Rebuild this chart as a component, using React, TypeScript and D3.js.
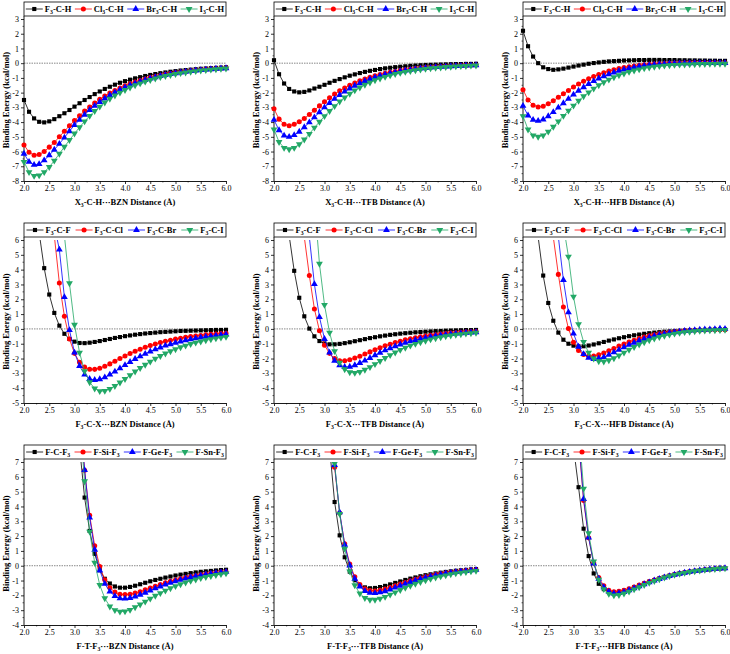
import React, { useEffect, useRef } from "react";
import * as d3 from "d3";

// x grid (Å)
const distance = [
  2.0, 2.1, 2.2, 2.3, 2.4, 2.5, 2.6, 2.7, 2.8, 2.9,
  3.0, 3.1, 3.2, 3.3, 3.4, 3.5, 3.6, 3.7, 3.8, 3.9,
  4.0, 4.1, 4.2, 4.3, 4.4, 4.5, 4.6, 4.7, 4.8, 4.9,
  5.0, 5.1, 5.2, 5.3, 5.4, 5.5, 5.6, 5.7, 5.8, 5.9,
  6.0,
];

// top row: X3-C-H ... BZN / TFB / HFB
const hBznF = [
  -2.5, -3.3, -3.75, -3.98, -4.02, -3.95, -3.8, -3.6, -3.4, -3.18,
  -2.95, -2.72, -2.5, -2.3, -2.1, -1.92, -1.75, -1.6, -1.46, -1.33,
  -1.22, -1.12, -1.03, -0.95, -0.87, -0.8, -0.74, -0.68, -0.63, -0.58,
  -0.54, -0.5, -0.47, -0.44, -0.41, -0.38, -0.36, -0.34, -0.32, -0.3,
  -0.28,
];
const hBznCl = [
  -5.55, -6.05, -6.25, -6.2, -6.0, -5.7, -5.38, -5.0, -4.62, -4.25,
  -3.9, -3.57, -3.25, -2.97, -2.7, -2.45, -2.23, -2.03, -1.85, -1.68,
  -1.53, -1.4, -1.28, -1.17, -1.07, -0.98, -0.9, -0.83, -0.76, -0.7,
  -0.65, -0.6, -0.56, -0.52, -0.48, -0.45, -0.42, -0.39, -0.37, -0.34,
  -0.32,
];
const hBznBr = [
  -6.15, -6.7, -6.9, -6.85, -6.6, -6.25, -5.88, -5.48, -5.05, -4.62,
  -4.2, -3.85, -3.5, -3.18, -2.9, -2.63, -2.4, -2.18, -1.98, -1.8,
  -1.64, -1.5, -1.37, -1.25, -1.14, -1.04, -0.95, -0.87, -0.8, -0.74,
  -0.68, -0.63, -0.58, -0.54, -0.5, -0.47, -0.44, -0.41, -0.38, -0.36,
  -0.34,
];
const hBznI = [
  -6.7, -7.4, -7.65, -7.62, -7.4, -7.05, -6.62, -6.15, -5.68, -5.22,
  -4.78, -4.35, -3.95, -3.58, -3.25, -2.95, -2.67, -2.42, -2.2, -2.0,
  -1.82, -1.65, -1.5, -1.37, -1.25, -1.14, -1.04, -0.95, -0.87, -0.8,
  -0.74, -0.68, -0.63, -0.58, -0.54, -0.5, -0.47, -0.44, -0.41, -0.38,
  -0.36,
];
const hTfbF = [
  0.2, -0.75, -1.38, -1.75, -1.92, -1.98, -1.95, -1.85, -1.72, -1.6,
  -1.47, -1.33, -1.2, -1.08, -0.96, -0.85, -0.76, -0.67, -0.59, -0.52,
  -0.46, -0.4, -0.35, -0.31, -0.27, -0.24, -0.21, -0.18, -0.16, -0.14,
  -0.12, -0.11, -0.1, -0.09, -0.08, -0.07, -0.06, -0.06, -0.05, -0.05,
  -0.04,
];
const hTfbCl = [
  -3.1, -3.8, -4.15, -4.25, -4.15, -3.98, -3.75, -3.48, -3.2, -2.9,
  -2.62, -2.35, -2.1, -1.88, -1.68, -1.5, -1.34, -1.2, -1.07, -0.96,
  -0.86, -0.77, -0.69, -0.62, -0.56, -0.5, -0.45, -0.41, -0.37, -0.33,
  -0.3, -0.27, -0.25, -0.23, -0.21, -0.19, -0.17, -0.16, -0.15, -0.14,
  -0.13,
];
const hTfbBr = [
  -3.85, -4.55, -4.92, -5.0, -4.88, -4.65, -4.35, -4.02, -3.68, -3.33,
  -3.0, -2.7, -2.42, -2.16, -1.93, -1.72, -1.53, -1.36, -1.21, -1.08,
  -0.96, -0.86, -0.77, -0.69, -0.62, -0.55, -0.5, -0.45, -0.4, -0.36,
  -0.33, -0.3, -0.27, -0.25, -0.23, -0.21, -0.19, -0.18, -0.16, -0.15,
  -0.14,
];
const hTfbI = [
  -4.5, -5.35, -5.75, -5.85, -5.75, -5.5, -5.18, -4.8, -4.38, -3.98,
  -3.6, -3.25, -2.92, -2.6, -2.33, -2.08, -1.85, -1.65, -1.47, -1.31,
  -1.16, -1.04, -0.93, -0.83, -0.74, -0.66, -0.59, -0.53, -0.48, -0.43,
  -0.39, -0.35, -0.32, -0.29, -0.26, -0.24, -0.22, -0.2, -0.19, -0.17,
  -0.16,
];
const hHfbF = [
  2.2, 1.15, 0.45, 0.0, -0.28, -0.4, -0.45, -0.42, -0.37, -0.3,
  -0.23, -0.16, -0.1, -0.04, 0.01, 0.05, 0.09, 0.12, 0.14, 0.16,
  0.18, 0.19, 0.2, 0.21, 0.21, 0.22, 0.22, 0.22, 0.21, 0.21,
  0.21, 0.2, 0.2, 0.19, 0.19, 0.18, 0.18, 0.17, 0.17, 0.16,
  0.16,
];
const hHfbCl = [
  -1.8, -2.5, -2.85, -2.97, -2.92, -2.75, -2.55, -2.32, -2.08, -1.85,
  -1.62, -1.42, -1.23, -1.06, -0.91, -0.77, -0.65, -0.54, -0.45, -0.37,
  -0.3, -0.24, -0.19, -0.15, -0.11, -0.08, -0.06, -0.04, -0.02, -0.01,
  0.0, 0.01, 0.01, 0.02, 0.02, 0.02, 0.03, 0.03, 0.03, 0.03,
  0.03,
];
const hHfbBr = [
  -2.9, -3.55, -3.85, -3.92, -3.82, -3.6, -3.32, -3.02, -2.72, -2.42,
  -2.13, -1.87, -1.63, -1.41, -1.22, -1.04, -0.89, -0.75, -0.63, -0.52,
  -0.43, -0.35, -0.28, -0.22, -0.17, -0.13, -0.1, -0.07, -0.05, -0.03,
  -0.02, -0.01, 0.0, 0.0, 0.01, 0.01, 0.01, 0.01, 0.01, 0.01,
  0.01,
];
const hHfbI = [
  -3.6, -4.5, -4.9, -5.0, -4.9, -4.65, -4.32, -3.95, -3.58, -3.22,
  -2.88, -2.55, -2.25, -1.98, -1.73, -1.5, -1.3, -1.12, -0.96, -0.82,
  -0.7, -0.59, -0.5, -0.42, -0.35, -0.29, -0.24, -0.2, -0.17, -0.14,
  -0.12, -0.1, -0.09, -0.08, -0.07, -0.06, -0.06, -0.05, -0.05, -0.04,
  -0.04,
];

// middle row: F3-C-X ... BZN / TFB / HFB
const xBznF = [
  null, null, 9.5, 6.5, 4.1, 2.32, 1.08, 0.22, -0.33, -0.68,
  -0.86, -0.95, -0.96, -0.93, -0.88, -0.82, -0.75, -0.68, -0.61, -0.55,
  -0.49, -0.44, -0.39, -0.35, -0.31, -0.28, -0.25, -0.22, -0.2, -0.18,
  -0.16, -0.14, -0.13, -0.12, -0.11, -0.1, -0.09, -0.08, -0.07, -0.07,
  -0.06,
];
const xBznCl = [
  null, null, null, null, null, null, 6.3, 3.1, 0.85, -0.68,
  -1.65, -2.25, -2.58, -2.72, -2.73, -2.65, -2.52, -2.36, -2.18, -2.0,
  -1.83, -1.66, -1.51, -1.37, -1.24, -1.12, -1.02, -0.92, -0.84, -0.76,
  -0.69, -0.63, -0.57, -0.52, -0.48, -0.44, -0.4, -0.37, -0.34, -0.31,
  -0.29,
];
const xBznBr = [
  null, null, null, null, null, null, 7.0, 5.35, 2.15, -0.08,
  -1.6, -2.5, -3.08, -3.38, -3.45, -3.4, -3.27, -3.08, -2.88, -2.66,
  -2.44, -2.23, -2.03, -1.85, -1.68, -1.52, -1.38, -1.25, -1.13, -1.03,
  -0.93, -0.85, -0.77, -0.7, -0.64, -0.58, -0.53, -0.49, -0.45, -0.41,
  -0.38,
];
const xBznI = [
  null, null, null, null, null, null, null, null, 6.3, 3.08,
  0.28, -1.6, -2.85, -3.6, -4.02, -4.2, -4.18, -4.05, -3.85, -3.62,
  -3.38, -3.12, -2.88, -2.64, -2.42, -2.21, -2.01, -1.83, -1.66, -1.51,
  -1.37, -1.24, -1.13, -1.02, -0.93, -0.85, -0.77, -0.7, -0.64, -0.59,
  -0.54,
];
const xTfbF = [
  null, null, null, 6.3, 3.92, 2.1, 0.85, 0.02, -0.5, -0.82,
  -0.98, -1.04, -1.04, -1.01, -0.96, -0.9, -0.83, -0.76, -0.69, -0.62,
  -0.56, -0.5, -0.45, -0.4, -0.36, -0.32, -0.29, -0.26, -0.23, -0.21,
  -0.19, -0.17, -0.15, -0.14, -0.12, -0.11, -0.1, -0.09, -0.08, -0.08,
  -0.07,
];
const xTfbCl = [
  null, null, null, null, null, null, 6.2, 3.6, 1.35, -0.12,
  -1.1, -1.65, -2.0, -2.15, -2.15, -2.08, -1.97, -1.84, -1.7, -1.55,
  -1.4, -1.27, -1.14, -1.03, -0.92, -0.83, -0.74, -0.66, -0.6, -0.53,
  -0.48, -0.43, -0.39, -0.35, -0.31, -0.28, -0.26, -0.23, -0.21, -0.19,
  -0.17,
];
const xTfbBr = [
  null, null, null, null, null, null, null, 6.2, 3.02, 0.8,
  -0.68, -1.6, -2.15, -2.45, -2.57, -2.55, -2.45, -2.3, -2.14, -1.96,
  -1.78, -1.61, -1.45, -1.3, -1.17, -1.05, -0.94, -0.84, -0.75, -0.67,
  -0.6, -0.54, -0.48, -0.43, -0.39, -0.35, -0.32, -0.29, -0.26, -0.24,
  -0.22,
];
const xTfbI = [
  null, null, null, null, null, null, null, null, 8.6, 4.4,
  1.62, -0.25, -1.5, -2.28, -2.72, -2.93, -2.97, -2.9, -2.76, -2.58,
  -2.38, -2.17, -1.96, -1.77, -1.59, -1.42, -1.27, -1.13, -1.01, -0.9,
  -0.8, -0.71, -0.63, -0.56, -0.5, -0.45, -0.4, -0.36, -0.32, -0.29,
  -0.26,
];
const xHfbF = [
  null, null, null, 6.2, 3.6, 1.75, 0.55, -0.25, -0.73, -1.0,
  -1.13, -1.18, -1.17, -1.12, -1.05, -0.97, -0.88, -0.79, -0.71, -0.63,
  -0.56, -0.49, -0.43, -0.38, -0.33, -0.29, -0.25, -0.22, -0.19, -0.17,
  -0.15, -0.13, -0.11, -0.1, -0.09, -0.08, -0.07, -0.06, -0.05, -0.05,
  -0.04,
];
const xHfbCl = [
  null, null, null, null, null, null, 6.2, 3.68, 1.48, 0.02,
  -0.9, -1.45, -1.72, -1.84, -1.83, -1.75, -1.62, -1.47, -1.32, -1.16,
  -1.02, -0.88, -0.76, -0.65, -0.55, -0.47, -0.4, -0.33, -0.28, -0.23,
  -0.19, -0.16, -0.13, -0.11, -0.09, -0.08, -0.07, -0.06, -0.05, -0.05,
  -0.05,
];
const xHfbBr = [
  null, null, null, null, null, null, null, 6.2, 3.3, 1.12,
  -0.32, -1.2, -1.7, -1.95, -2.03, -2.0, -1.9, -1.75, -1.58, -1.41,
  -1.24, -1.08, -0.93, -0.8, -0.68, -0.58, -0.48, -0.4, -0.33, -0.27,
  -0.22, -0.18, -0.14, -0.11, -0.08, -0.06, -0.04, -0.03, -0.01, 0.02,
  0.0,
];
const xHfbI = [
  null, null, null, null, null, null, null, null, 7.0, 4.88,
  2.18, 0.32, -0.88, -1.6, -2.0, -2.18, -2.2, -2.12, -1.98, -1.8,
  -1.6, -1.41, -1.22, -1.05, -0.9, -0.77, -0.65, -0.55, -0.46, -0.39,
  -0.32, -0.27, -0.22, -0.19, -0.16, -0.13, -0.11, -0.1, -0.09, -0.08,
  -0.07,
];

// bottom row: F-T-F3 ... BZN / TFB / HFB
const none10 = [null, null, null, null, null, null, null, null, null, null];
const tBznC = [
  ...none10,
  null, 8.0, 4.6, 2.35, 0.8, -0.3, -0.88, -1.2, -1.4, -1.48,
  -1.48, -1.43, -1.35, -1.25, -1.15, -1.05, -0.96, -0.88, -0.8, -0.73,
  -0.66, -0.6, -0.55, -0.5, -0.45, -0.41, -0.38, -0.35, -0.32, -0.29,
  -0.27,
];
const tBznSi = [
  ...none10,
  null, 10.5, 6.45, 3.4, 1.35, -0.05, -0.95, -1.48, -1.78, -1.93,
  -1.95, -1.92, -1.85, -1.75, -1.63, -1.5, -1.38, -1.26, -1.15, -1.05,
  -0.96, -0.88, -0.8, -0.73, -0.67, -0.61, -0.56, -0.51, -0.47, -0.43,
  -0.4,
];
const tBznGe = [
  ...none10,
  null, 10.5, 6.45, 3.25, 1.08, -0.32, -1.22, -1.75, -2.05, -2.2,
  -2.22, -2.18, -2.08, -1.96, -1.82, -1.68, -1.53, -1.4, -1.27, -1.15,
  -1.05, -0.95, -0.86, -0.78, -0.71, -0.65, -0.59, -0.54, -0.49, -0.45,
  -0.41,
];
const tBznSn = [
  ...none10,
  null, 10.0, 5.7, 2.3, 0.2, -1.3, -2.2, -2.75, -3.0, -3.1,
  -3.08, -2.98, -2.8, -2.62, -2.42, -2.22, -2.03, -1.85, -1.68, -1.52,
  -1.38, -1.25, -1.13, -1.02, -0.93, -0.84, -0.76, -0.69, -0.63, -0.57,
  -0.52,
];
const tTfbC = [
  ...none10,
  null, 8.0, 4.3, 2.05, 0.57, -0.4, -0.98, -1.3, -1.46, -1.52,
  -1.5, -1.44, -1.36, -1.26, -1.16, -1.06, -0.96, -0.87, -0.79, -0.71,
  -0.64, -0.58, -0.52, -0.47, -0.42, -0.38, -0.34, -0.31, -0.28, -0.25,
  -0.23,
];
const tTfbSi = [
  ...none10,
  null, 10.5, 6.65, 3.55, 1.48, 0.12, -0.75, -1.26, -1.55, -1.68,
  -1.7, -1.66, -1.58, -1.47, -1.36, -1.24, -1.13, -1.02, -0.92, -0.83,
  -0.75, -0.67, -0.6, -0.54, -0.49, -0.44, -0.4, -0.36, -0.32, -0.29,
  -0.27,
];
const tTfbGe = [
  ...none10,
  null, 10.5, 6.8, 3.6, 1.42, 0.02, -0.88, -1.4, -1.7, -1.83,
  -1.85, -1.8, -1.72, -1.6, -1.48, -1.35, -1.22, -1.1, -0.99, -0.89,
  -0.8, -0.72, -0.65, -0.58, -0.52, -0.47, -0.42, -0.38, -0.35, -0.31,
  -0.28,
];
const tTfbSn = [
  ...none10,
  null, 10.5, 6.9, 3.5, 1.15, -0.38, -1.32, -1.88, -2.18, -2.3,
  -2.3, -2.22, -2.1, -1.95, -1.8, -1.64, -1.49, -1.35, -1.22, -1.1,
  -0.99, -0.89, -0.8, -0.72, -0.65, -0.58, -0.52, -0.47, -0.43, -0.38,
  -0.35,
];
const tHfbC = [
  ...none10,
  8.0, 5.3, 2.5, 0.65, -0.52, -1.22, -1.58, -1.75, -1.8, -1.76,
  -1.68, -1.57, -1.45, -1.33, -1.2, -1.08, -0.97, -0.86, -0.76, -0.67,
  -0.59, -0.52, -0.46, -0.4, -0.35, -0.31, -0.27, -0.24, -0.21, -0.18,
  -0.16,
];
const tHfbSi = [
  ...none10,
  null, 8.5, 4.4, 1.88, 0.18, -0.8, -1.35, -1.65, -1.75, -1.73,
  -1.65, -1.55, -1.43, -1.31, -1.19, -1.07, -0.96, -0.86, -0.76, -0.67,
  -0.59, -0.52, -0.46, -0.4, -0.35, -0.31, -0.27, -0.24, -0.21, -0.18,
  -0.16,
];
const tHfbGe = [
  ...none10,
  null, 8.7, 4.5, 1.9, 0.15, -0.88, -1.45, -1.75, -1.87, -1.85,
  -1.77, -1.65, -1.52, -1.39, -1.25, -1.12, -1.0, -0.89, -0.79, -0.7,
  -0.61, -0.54, -0.47, -0.41, -0.36, -0.32, -0.28, -0.24, -0.21, -0.19,
  -0.17,
];
const tHfbSn = [
  ...none10,
  null, 9.5, 5.2, 2.2, 0.28, -0.95, -1.58, -1.9, -2.0, -1.98,
  -1.88, -1.75, -1.6, -1.45, -1.3, -1.16, -1.03, -0.91, -0.8, -0.7,
  -0.62, -0.54, -0.48, -0.42, -0.37, -0.32, -0.28, -0.25, -0.22, -0.19,
  -0.17,
];

const rowDomains = [[-8, 3], [-5, 6], [-4, 7]];
const rowLegends = [
  ["F3-C-H", "Cl3-C-H", "Br3-C-H", "I3-C-H"],
  ["F3-C-F", "F3-C-Cl", "F3-C-Br", "F3-C-I"],
  ["F-C-F3", "F-Si-F3", "F-Ge-F3", "F-Sn-F3"],
];
const rowPrefixes = ["X3-C-H", "F3-C-X", "F-T-F3"];
const acceptors = ["BZN", "TFB", "HFB"];
const xTicks = [2.0, 2.5, 3.0, 3.5, 4.0, 4.5, 5.0, 5.5, 6.0];

const colors = ["#000000", "#ff0000", "#0000ff", "#22a866"];
const symbols = [d3.symbolSquare, d3.symbolCircle, d3.symbolTriangle, d3.symbolTriangle];
const font = "'Liberation Serif', 'Times New Roman', serif";

// digits are written as subscripts (F3 -> F₃)
const writeLabel = (t: any, str: string, size: number) => {
  let shifted = false;
  str
    .split(/(\d)/)
    .filter((s) => s)
    .forEach((part) => {
      const ts = t.append("tspan").text(part);
      if (/\d/.test(part)) {
        ts.attr("font-size", size * 0.68).attr("dy", 2);
        shifted = true;
      } else if (shifted) {
        ts.attr("dy", -2);
        shifted = false;
      }
    });
};

const App = () => {
  const ref = useRef<SVGSVGElement>(null);

  useEffect(() => {
    const svg = d3.select(ref.current);
    svg.selectAll("*").remove();

    const grid = [
      [
        [hBznF, hBznCl, hBznBr, hBznI],
        [hTfbF, hTfbCl, hTfbBr, hTfbI],
        [hHfbF, hHfbCl, hHfbBr, hHfbI],
      ],
      [
        [xBznF, xBznCl, xBznBr, xBznI],
        [xTfbF, xTfbCl, xTfbBr, xTfbI],
        [xHfbF, xHfbCl, xHfbBr, xHfbI],
      ],
      [
        [tBznC, tBznSi, tBznGe, tBznSn],
        [tTfbC, tTfbSi, tTfbGe, tTfbSn],
        [tHfbC, tHfbSi, tHfbGe, tHfbSn],
      ],
    ];

    const colLeft = [24, 274, 523];
    const rowTop = [19, 240, 462];
    const rowBottom = [181, 403, 625];
    const plotW = 202;

    grid.forEach((row, r) => {
      row.forEach((panel, c) => {
        const left = colLeft[c];
        const right = left + plotW;
        const top = rowTop[r];
        const bottom = rowBottom[r];
        const [lo, hi] = rowDomains[r];

        const x = d3.scaleLinear().domain([2, 6]).range([left, right]);
        const y = d3.scaleLinear().domain([lo, hi]).range([bottom, top]);
        const g = svg.append("g");

        const clipId = `clip-${r}-${c}`;
        g.append("clipPath")
          .attr("id", clipId)
          .append("rect")
          .attr("x", left - 4)
          .attr("y", top)
          .attr("width", plotW + 8)
          .attr("height", bottom - top + 4);

        // zero reference line
        g.append("line")
          .attr("x1", left)
          .attr("x2", right)
          .attr("y1", y(0))
          .attr("y2", y(0))
          .attr("stroke", "#555")
          .attr("stroke-width", 0.7)
          .attr("stroke-dasharray", "1.5,1");

        // y axis
        const yAxis = g
          .append("g")
          .attr("transform", `translate(${left},0)`)
          .call(
            d3
              .axisLeft(y)
              .tickValues(d3.range(lo, hi + 1))
              .tickFormat((d) => String(d))
              .tickSize(3)
              .tickSizeOuter(0)
              .tickPadding(2)
          );
        yAxis.select(".domain").remove();
        yAxis.selectAll("text").attr("font-family", font).attr("font-size", 8);
        yAxis.selectAll("line").attr("stroke-width", 0.8);
        g.append("line")
          .attr("x1", left)
          .attr("x2", left)
          .attr("y1", top - 3)
          .attr("y2", bottom)
          .attr("stroke", "#000")
          .attr("stroke-width", 0.9);
        g.selectAll(".ymin")
          .data(d3.range(lo + 0.5, hi, 1))
          .enter()
          .append("line")
          .attr("x1", left - 1.5)
          .attr("x2", left)
          .attr("y1", (d) => y(d))
          .attr("y2", (d) => y(d))
          .attr("stroke", "#000")
          .attr("stroke-width", 0.6);

        // x axis
        const xAxis = g
          .append("g")
          .attr("transform", `translate(0,${bottom})`)
          .call(
            d3
              .axisBottom(x)
              .tickValues(xTicks)
              .tickFormat(d3.format(".1f"))
              .tickSize(3)
              .tickSizeOuter(0)
              .tickPadding(1)
          );
        xAxis.select(".domain").attr("stroke-width", 0.9);
        xAxis.selectAll("text").attr("font-family", font).attr("font-size", 8);
        xAxis.selectAll("line").attr("stroke-width", 0.8);
        g.selectAll(".xmin")
          .data(xTicks.slice(0, -1).map((d) => d + 0.25))
          .enter()
          .append("line")
          .attr("x1", (d) => x(d))
          .attr("x2", (d) => x(d))
          .attr("y1", bottom)
          .attr("y2", bottom + 1.5)
          .attr("stroke", "#000")
          .attr("stroke-width", 0.6);

        // series
        const plot = g.append("g").attr("clip-path", `url(#${clipId})`);
        panel.forEach((values, s) => {
          const line = d3
            .line<number | null>()
            .defined((d) => d != null)
            .x((d, i) => x(distance[i]))
            .y((d) => y(d as number));
          plot
            .append("path")
            .datum(values)
            .attr("d", line)
            .attr("fill", "none")
            .attr("stroke", colors[s])
            .attr("stroke-width", 0.8);

          const pts = values
            .map((v, i) => ({ v, i }))
            .filter((p) => p.v != null);
          const sym = d3.symbol().type(symbols[s]).size(s === 0 ? 17 : 20)();
          plot
            .selectAll(`.m${s}`)
            .data(pts)
            .enter()
            .append("path")
            .attr("d", sym)
            .attr(
              "transform",
              (p) =>
                `translate(${x(distance[p.i])},${y(p.v as number)})${s === 3 ? " rotate(180)" : ""}`
            )
            .attr("fill", colors[s]);
        });

        // legend box
        const boxTop = top - 17;
        const boxH = 14;
        g.append("rect")
          .attr("x", left)
          .attr("y", boxTop)
          .attr("width", plotW)
          .attr("height", boxH)
          .attr("fill", "#fff")
          .attr("stroke", "#000")
          .attr("stroke-width", 0.8);

        const lineLen = 17;
        const entries = rowLegends[r].map((label, s) => {
          const eg = g.append("g");
          const t = eg
            .append("text")
            .attr("font-family", font)
            .attr("font-size", 8.5)
            .attr("font-weight", "bold")
            .attr("y", boxTop + boxH / 2 + 2.5);
          writeLabel(t, label, 8.5);
          const w = (t.node() as SVGTextElement).getComputedTextLength();
          return { eg, t, w, s };
        });
        const used = d3.sum(entries, (e) => lineLen + 2 + e.w);
        const gap = (plotW - used) / entries.length;
        let cursor = left + gap / 2;
        entries.forEach(({ eg, t, w, s }) => {
          const cy = boxTop + boxH / 2;
          eg.insert("line", "text")
            .attr("x1", cursor)
            .attr("x2", cursor + lineLen)
            .attr("y1", cy)
            .attr("y2", cy)
            .attr("stroke", colors[s])
            .attr("stroke-width", 0.8);
          const sym = d3.symbol().type(symbols[s]).size(s === 0 ? 17 : 20)();
          eg.insert("path", "text")
            .attr("d", sym)
            .attr(
              "transform",
              `translate(${cursor + lineLen / 2},${cy})${s === 3 ? " rotate(180)" : ""}`
            )
            .attr("fill", colors[s]);
          t.attr("x", cursor + lineLen + 2);
          cursor += lineLen + 2 + w + gap;
        });

        // axis titles
        g.append("text")
          .attr("transform", `translate(${left - 15.5},${(top + bottom) / 2}) rotate(-90)`)
          .attr("text-anchor", "middle")
          .attr("font-family", font)
          .attr("font-size", 8.5)
          .attr("font-weight", "bold")
          .text("Binding Energy (kcal/mol)");

        const xt = g
          .append("text")
          .attr("x", (left + right) / 2)
          .attr("y", bottom + 24)
          .attr("text-anchor", "middle")
          .attr("font-family", font)
          .attr("font-size", 8.5)
          .attr("font-weight", "bold");
        writeLabel(xt, `${rowPrefixes[r]}\u00b7\u00b7\u00b7${acceptors[c]} Distance (\u00c5)`, 8.5);
      });
    });
  }, []);

  return (
    <svg
      ref={ref}
      width={730}
      height={654}
      style={{ position: "absolute", left: 0, top: 0, background: "#fff" }}
    />
  );
};

export default App;
